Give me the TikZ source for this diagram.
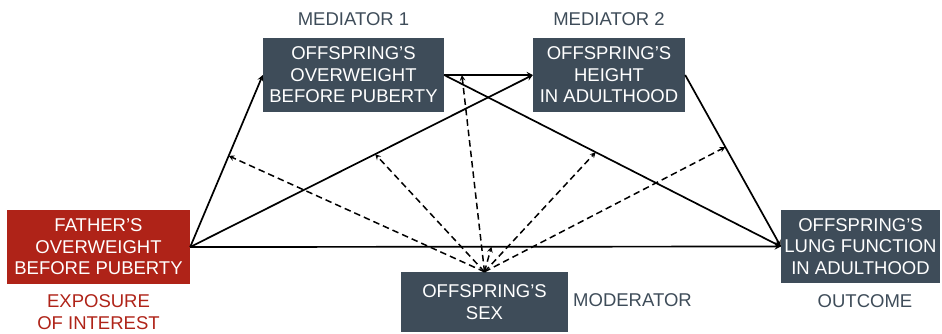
\documentclass[tikz,border=0pt]{standalone}
\usepackage{fontspec}
\setmainfont{Liberation Sans}
\definecolor{slate}{HTML}{3E4C59}
\definecolor{brick}{HTML}{AF2318}
\tikzset{
  box/.style={fill=slate, text=white, align=center, inner sep=0pt,
    font=\fontsize{18.5}{21.5}\selectfont},
  tag/.style={text=slate, align=center, inner sep=0pt,
    font=\fontsize{18.5}{21.5}\selectfont},
  link/.style={->, >=stealth, line width=1.7pt},
  modlink/.style={link, line width=1.5pt, dash pattern=on 6.5pt off 4pt}
}
\begin{document}
\begin{tikzpicture}[x=1pt, y=-1pt]
    \useasboundingbox (0,0) rectangle (942,333);
    % boxes
    \node [box, fill=brick, minimum width=183, minimum height=74] (father) at (98.5,247)
        {FATHER’S\\OVERWEIGHT\\BEFORE PUBERTY};
    \node [box, minimum width=181, minimum height=74] (weight) at (353.5,75)
        {OFFSPRING’S\\OVERWEIGHT\\BEFORE PUBERTY};
    \node [box, minimum width=152, minimum height=74] (height) at (609,75)
        {OFFSPRING’S\\HEIGHT\\IN ADULTHOOD};
    \node [box, minimum width=159, minimum height=73] (lung) at (860.5,246.5)
        {OFFSPRING’S\\LUNG FUNCTION\\IN ADULTHOOD};
    \node [box, minimum width=167, minimum height=60] (sex) at (484.5,302)
        {OFFSPRING’S\\SEX};
    % labels
    \node [tag] (med1) at (353.5,19) {MEDIATOR 1};
    \node [tag] (med2) at (609,19) {MEDIATOR 2};
    \node [tag, text=brick] (expo) at (98.5,312) {EXPOSURE\\OF INTEREST};
    \node [tag] (outc) at (865,301) {OUTCOME};
    \node [tag, anchor=west] (moder) at (573,300) {MODERATOR};
    % paths
    \draw [link] (father.east) -- coordinate[pos=0.53] (fw) (weight.west);
    \draw [link] (father.east) -- coordinate[pos=0.54] (fh) (height.west);
    \draw [link] (father.east) -- coordinate[pos=0.51] (fl) (lung.west);
    \draw [link] (weight.east) -- coordinate[pos=0.2] (wh) (height.west);
    \draw [link] (weight.east) -- coordinate[pos=0.45] (wl) (lung.west);
    \draw [link] (height.east) -- coordinate[pos=0.42] (hl) (lung.west);
    % moderation
    \foreach \m in {fw, fh, fl, wh, wl, hl}
        \draw [modlink] (sex.north) -- (\m);
\end{tikzpicture}
\end{document}
